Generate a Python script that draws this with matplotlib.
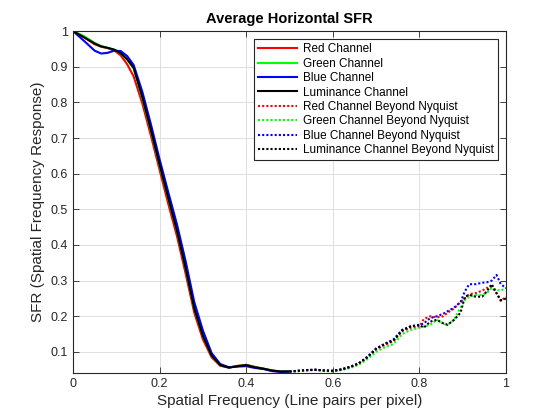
import matplotlib
matplotlib.use("Agg")
import matplotlib.pyplot as plt

plt.rcParams['font.family'] = ['Liberation Sans', 'DejaVu Sans']

# ---- data ----
x_solid = [0, 0.025, 0.05, 0.065, 0.08, 0.095, 0.11, 0.125, 0.14, 0.16, 0.18, 0.2, 0.22,
           0.24, 0.26, 0.28, 0.3, 0.32, 0.34, 0.36, 0.38, 0.4, 0.42, 0.44, 0.46, 0.48, 0.5]
red_solid = [1.0, 0.983, 0.963, 0.956, 0.952, 0.946, 0.932, 0.907, 0.873, 0.797, 0.706, 0.61, 0.515,
             0.425, 0.32, 0.21, 0.135, 0.085, 0.061, 0.056, 0.061, 0.064, 0.058, 0.053, 0.047, 0.045, 0.045]
green_solid = [1.0, 0.986, 0.967, 0.958, 0.953, 0.948, 0.938, 0.92, 0.895, 0.812, 0.72, 0.623, 0.53,
               0.44, 0.334, 0.222, 0.145, 0.09, 0.063, 0.056, 0.06, 0.063, 0.057, 0.053, 0.048, 0.045, 0.045]
blue_solid = [1.0, 0.973, 0.945, 0.937, 0.939, 0.945, 0.944, 0.93, 0.905, 0.83, 0.738, 0.64, 0.548,
              0.458, 0.355, 0.24, 0.16, 0.097, 0.066, 0.057, 0.059, 0.06, 0.055, 0.052, 0.046, 0.044, 0.045]
lum_solid = [1.0, 0.983, 0.965, 0.957, 0.953, 0.948, 0.938, 0.921, 0.897, 0.815, 0.722, 0.625, 0.532,
             0.44, 0.335, 0.222, 0.145, 0.09, 0.063, 0.056, 0.06, 0.063, 0.057, 0.053, 0.048, 0.045, 0.045]

x_dot = [0.5, 0.52, 0.54, 0.56, 0.58, 0.6, 0.62, 0.64, 0.66, 0.68, 0.70, 0.72, 0.74, 0.76, 0.78,
         0.80, 0.81, 0.825, 0.84, 0.855, 0.865, 0.88, 0.895, 0.905, 0.915, 0.93, 0.945, 0.955,
         0.967, 0.978, 0.988, 1.0]
red_dot = [0.045, 0.047, 0.049, 0.05, 0.048, 0.047, 0.051, 0.058, 0.068, 0.085, 0.108, 0.12, 0.13,
           0.158, 0.168, 0.17, 0.192, 0.2, 0.197, 0.2, 0.21, 0.222, 0.24, 0.25, 0.262, 0.265, 0.272,
           0.279, 0.283, 0.265, 0.243, 0.255]
green_dot = [0.045, 0.046, 0.048, 0.049, 0.047, 0.045, 0.049, 0.055, 0.064, 0.08, 0.1, 0.113, 0.122,
             0.15, 0.162, 0.168, 0.171, 0.176, 0.19, 0.18, 0.176, 0.19, 0.225, 0.246, 0.255, 0.26, 0.26,
             0.265, 0.279, 0.274, 0.272, 0.28]
blue_dot = [0.045, 0.047, 0.049, 0.05, 0.048, 0.047, 0.051, 0.058, 0.068, 0.087, 0.11, 0.123, 0.135,
            0.162, 0.172, 0.175, 0.18, 0.195, 0.2, 0.207, 0.214, 0.224, 0.24, 0.27, 0.29, 0.29, 0.294,
            0.295, 0.3, 0.316, 0.29, 0.279]
lum_dot = [0.045, 0.047, 0.049, 0.05, 0.048, 0.047, 0.051, 0.058, 0.068, 0.085, 0.108, 0.122, 0.132,
           0.16, 0.172, 0.176, 0.168, 0.185, 0.19, 0.18, 0.176, 0.19, 0.21, 0.255, 0.26, 0.255, 0.255,
           0.269, 0.29, 0.265, 0.245, 0.25]

labels = ["Red Channel", "Green Channel", "Blue Channel", "Luminance Channel",
          "Red Channel Beyond Nyquist", "Green Channel Beyond Nyquist",
          "Blue Channel Beyond Nyquist", "Luminance Channel Beyond Nyquist"]
xticks = [0, 0.2, 0.4, 0.6, 0.8, 1]
xticklabels = ["0", "0.2", "0.4", "0.6", "0.8", "1"]
yticks = [0.1, 0.2, 0.3, 0.4, 0.5, 0.6, 0.7, 0.8, 0.9, 1]
yticklabels = ["0.1", "0.2", "0.3", "0.4", "0.5", "0.6", "0.7", "0.8", "0.9", "1"]

colors = ["#ff0000", "#00ff00", "#0000ff", "#000000"]

fig = plt.figure(figsize=(5.6, 4.2), dpi=100)
ax = fig.add_axes([0.1304, 0.112, 0.7732, 0.814])

solids = [red_solid, green_solid, blue_solid, lum_solid]
dots = [red_dot, green_dot, blue_dot, lum_dot]
for ys, c, lab in zip(solids, colors, labels[:4]):
    ax.plot(x_solid, ys, color=c, lw=1.5, label=lab)
for ys, c, lab in zip(dots, colors, labels[4:]):
    ax.plot(x_dot, ys, color=c, lw=1.5, ls=(0, (1, 1)), label=lab)

ax.set_xlim(0, 1)
ax.set_ylim(0.041, 1)
ax.set_xticks(xticks)
ax.set_xticklabels(xticklabels)
ax.set_yticks(yticks)
ax.set_yticklabels(yticklabels)
ax.grid(True, color="#dfdfdf", lw=0.7)
ax.set_axisbelow(True)
ax.tick_params(direction="in", top=True, right=True, labelsize=9, length=4,
               colors="#262626", width=0.6)
for s in ax.spines.values():
    s.set_color("#262626")
    s.set_linewidth(0.8)

ax.set_xlabel("Spatial Frequency (Line pairs per pixel)", fontsize=11, color="#262626", labelpad=3)
ax.set_ylabel("SFR (Spatial Frequency Response)", fontsize=11, color="#262626", labelpad=4)
ax.set_title("Average Horizontal SFR", fontsize=10.5, fontweight="bold", pad=6)

leg = ax.legend(loc="upper right", fontsize=8.5, frameon=True, fancybox=False,
                edgecolor="#262626", framealpha=1, handlelength=3.3, handletextpad=0.5,
                labelspacing=0.2, borderpad=0.35, borderaxespad=0.7)
leg.get_frame().set_linewidth(0.8)

fig.savefig("out.png", dpi=100)
